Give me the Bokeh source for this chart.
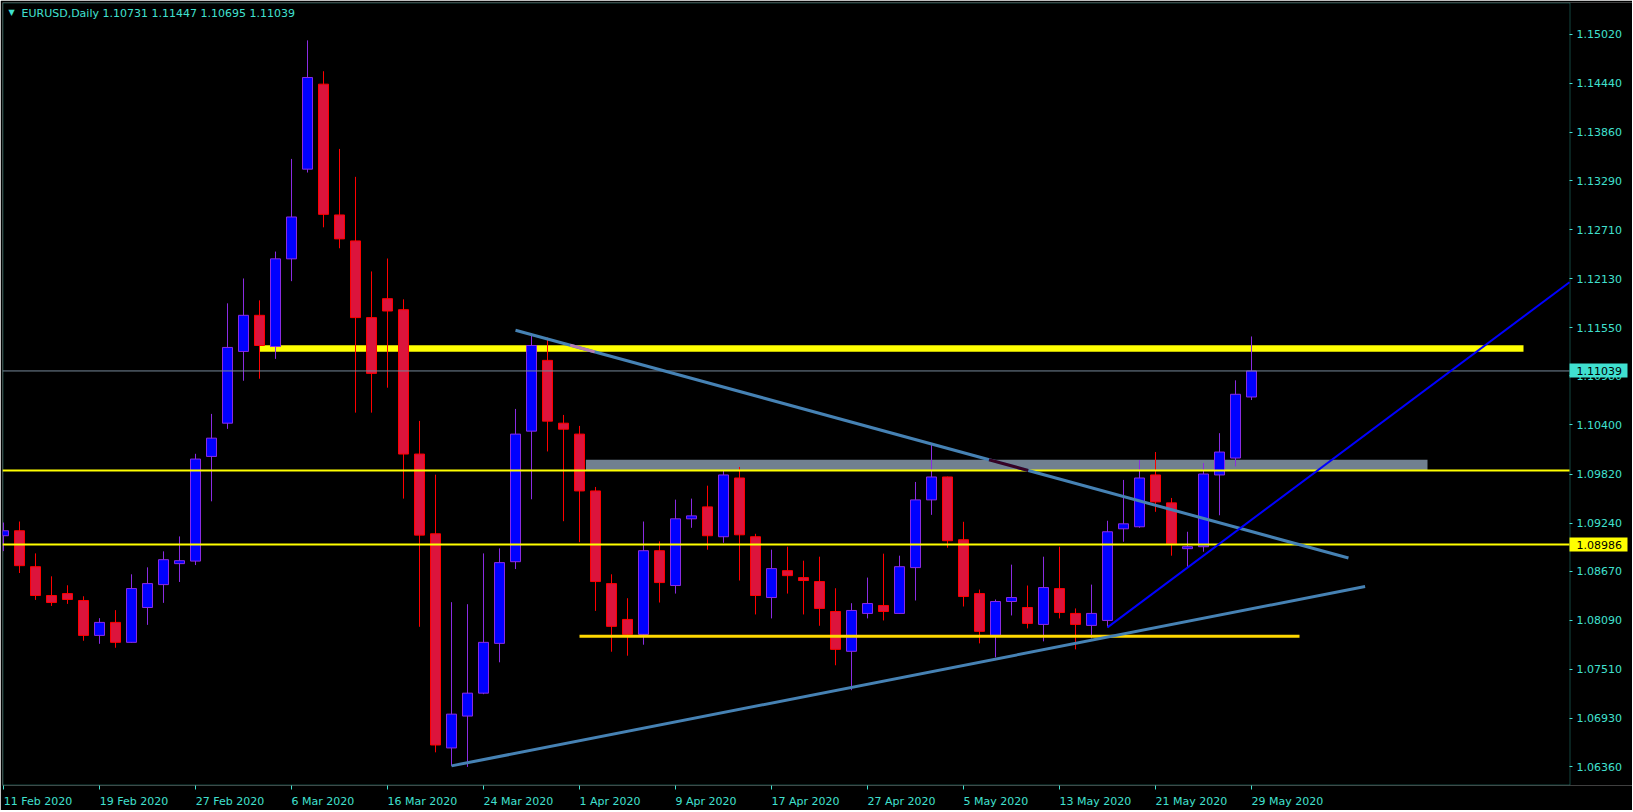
from bokeh.plotting import figure
from bokeh.models import (Range1d, FixedTicker, PrintfTickFormatter, Label, ColumnDataSource,
                          LinearAxis, BoxAnnotation)
from bokeh.embed import file_html
from bokeh.resources import INLINE

# ---------------- data ----------------
symbol = "EURUSD"
timeframe = "Daily"
x_tick_labels = ["11 Feb 2020", "19 Feb 2020", "27 Feb 2020", "6 Mar 2020", "16 Mar 2020",
                 "24 Mar 2020", "1 Apr 2020", "9 Apr 2020", "17 Apr 2020", "27 Apr 2020",
                 "5 May 2020", "13 May 2020", "21 May 2020", "29 May 2020"]
x_tick_step = 6
y_tick_values = [1.06360, 1.06930, 1.07510, 1.08090, 1.08670, 1.09240, 1.09820, 1.10400,
                 1.10980, 1.11550, 1.12130, 1.12710, 1.13290, 1.13860, 1.14440, 1.15020]

opens = [1.09090, 1.09149, 1.08724, 1.08383, 1.08406, 1.08324, 1.07911, 1.08065, 1.07829, 1.08241,
         1.08512, 1.08760, 1.08790, 1.10028, 1.10421, 1.11270, 1.11697, 1.11328, 1.12365, 1.13426,
         1.14431, 1.12884, 1.12577, 1.11670, 1.11894, 1.11764, 1.10056, 1.09113, 1.06580, 1.06957,
         1.07228, 1.07817, 1.08783, 1.10327, 1.11164, 1.10421, 1.10292, 1.09620, 1.08524, 1.08100,
         1.07923, 1.08913, 1.08501, 1.09290, 1.09431, 1.09078, 1.09773, 1.09078, 1.08359, 1.08677,
         1.08595, 1.08548, 1.08194, 1.07723, 1.08171, 1.08265, 1.08171, 1.08713, 1.09514, 1.09785,
         1.09043, 1.08406, 1.07911, 1.08312, 1.08241, 1.08041, 1.08465, 1.08171, 1.08029, 1.08088,
         1.09172, 1.09196, 1.09809, 1.09479, 1.08937, 1.08960, 1.09809, 1.10009, 1.10731]
highs = [1.09246, 1.09258, 1.08881, 1.08610, 1.08504, 1.08374, 1.08115, 1.08210, 1.08634, 1.08716,
         1.08905, 1.09082, 1.10059, 1.10531, 1.11839, 1.12133, 1.11874, 1.12451, 1.13547, 1.14949,
         1.14584, 1.13665, 1.13335, 1.12216, 1.12369, 1.11886, 1.10448, 1.09812, 1.08304, 1.08280,
         1.08881, 1.08940, 1.10590, 1.11482, 1.11434, 1.10519, 1.10389, 1.09667, 1.08634, 1.08351,
         1.09258, 1.09023, 1.09517, 1.09529, 1.09682, 1.09867, 1.09903, 1.09113, 1.08925, 1.08960,
         1.08795, 1.08842, 1.08469, 1.08292, 1.08595, 1.08878, 1.08854, 1.09726, 1.10186, 1.09790,
         1.09255, 1.08453, 1.08336, 1.08748, 1.08501, 1.08842, 1.08960, 1.08230, 1.08512, 1.09267,
         1.09750, 1.09985, 1.10080, 1.09537, 1.09137, 1.09950, 1.10303, 1.10928, 1.11447]
lows = [1.08908, 1.08649, 1.08331, 1.08260, 1.08284, 1.07848, 1.07812, 1.07765, 1.07825, 1.08036,
        1.08296, 1.08543, 1.08743, 1.09497, 1.10354, 1.10923, 1.10947, 1.11182, 1.12101, 1.13386,
        1.12738, 1.12490, 1.10546, 1.10546, 1.10841, 1.09529, 1.08013, 1.06528, 1.06368, 1.06356,
        1.07216, 1.07593, 1.08696, 1.09521, 1.10087, 1.09262, 1.09014, 1.08201, 1.07718, 1.07671,
        1.07801, 1.08300, 1.08406, 1.09184, 1.08925, 1.09007, 1.08560, 1.08159, 1.08112, 1.08406,
        1.08159, 1.08025, 1.07558, 1.07263, 1.08112, 1.08088, 1.08165, 1.08324, 1.09337, 1.08948,
        1.08253, 1.07817, 1.07652, 1.08147, 1.07994, 1.07841, 1.08112, 1.07746, 1.07876, 1.08006,
        1.09019, 1.09184, 1.09373, 1.08854, 1.08713, 1.08901, 1.09332, 1.09910, 1.10695]
closes = [1.09149, 1.08736, 1.08383, 1.08300, 1.08336, 1.07911, 1.08065, 1.07829, 1.08465, 1.08524,
          1.08807, 1.08795, 1.09997, 1.10244, 1.11317, 1.11697, 1.11340, 1.12365, 1.12860, 1.14510,
          1.12891, 1.12601, 1.11670, 1.11010, 1.11748, 1.10056, 1.09097, 1.06615, 1.06980, 1.07228,
          1.07829, 1.08772, 1.10292, 1.11340, 1.10445, 1.10350, 1.09620, 1.08548, 1.08018, 1.07923,
          1.08913, 1.08536, 1.09290, 1.09325, 1.09090, 1.09809, 1.09101, 1.08383, 1.08701, 1.08618,
          1.08560, 1.08230, 1.07746, 1.08206, 1.08288, 1.08194, 1.08724, 1.09514, 1.09785, 1.09031,
          1.08371, 1.07959, 1.08312, 1.08359, 1.08053, 1.08477, 1.08182, 1.08041, 1.08171, 1.09137,
          1.09231, 1.09773, 1.09490, 1.08995, 1.08960, 1.09820, 1.10080, 1.10763, 1.11039]

# drawn objects (bar index, price)
resistance_band = [1.11265, 1.11344]
resistance_band_bars = [16.0, 95.0]
zone_band = [1.09862, 1.09989]
zone_band_bars = [36.4, 89.0]
plain_level = 1.09862
labelled_level = 1.08986
support_level = 1.07900
support_bars = [36.0, 81.0]
down_trend = [(32.0, 1.11521), (84.06, 1.08826)]
up_trend = [(28.0, 1.06368), (85.1, 1.08489)]
ray_anchor = [(69.0, 1.08006), (74.0, 1.08713)]

# ---------------- style ----------------
TURQ = "#40E0D0"
BULL_FILL, BULL_LINE = "#0000FF", "#8A2BE2"
BEAR_FILL, BEAR_LINE = "#DC143C", "#FF0000"
FONT = "DejaVu Sans"
FS = 11

PX_PER_BAR = 16.0
FRAME_W, FRAME_H = 1630, 786          # plotting area incl. the price-scale column
CHART_W = 1567                        # chart area inside the border
X0 = -0.0625
XR = X0 + FRAME_W / PX_PER_BAR        # right end of the range
XE = X0 + CHART_W / PX_PER_BAR        # chart's right border (price scale position)
Y0, Y1 = 1.061358, 1.153970

# DejaVu Sans advance widths (font units of 2048) used to left-align date labels at their ticks
ADV = {" ": 651, "A": 1401, "F": 1178, "M": 1767, "a": 1255, "b": 1300, "e": 1260,
       "p": 1300, "r": 842, "y": 1212}


def text_w(s):
    return sum(ADV.get(ch, 1303) for ch in s) / 2048 * FS


def px2x(px):  # page pixel -> bar index (decorations only)
    return X0 + (px - 2) / PX_PER_BAR


def px2y(py):
    return Y1 - (py - 2) * (Y1 - Y0) / FRAME_H


p = figure(width=2 + FRAME_W, height=2 + FRAME_H + 22,
           x_range=Range1d(X0, XR), y_range=Range1d(Y0, Y1),
           output_backend="svg", toolbar_location=None, y_axis_location="right",
           min_border_left=2, min_border_top=2, min_border_right=0, min_border_bottom=22,
           background_fill_color="black", border_fill_color="black",
           outline_line_color=None)
p.xgrid.visible = False
p.ygrid.visible = False

# price scale, drawn at the chart's right border
ya = p.yaxis[0]
ya.fixed_location = XE
ya.ticker = FixedTicker(ticks=y_tick_values)
ya.formatter = PrintfTickFormatter(format="%.5f")
ya.major_tick_out = 3
ya.major_tick_in = 0
ya.major_label_standoff = 4
ya.major_tick_line_color = TURQ
ya.minor_tick_line_color = None

# x axis: tick marks as minor ticks at the dates, labels (major) shifted so they start at the tick
x_ticks = list(range(0, len(opens), x_tick_step))
label_pos = [round(t + text_w(lab) / 2 / PX_PER_BAR, 4) for t, lab in zip(x_ticks, x_tick_labels)]
xa = p.xaxis[0]
xa.ticker = FixedTicker(ticks=label_pos, minor_ticks=x_ticks)
xa.major_label_overrides = {pos: lab for pos, lab in zip(label_pos, x_tick_labels)}
xa.major_tick_line_color = None
xa.major_tick_out = 0
xa.major_tick_in = 0
xa.minor_tick_line_color = TURQ
xa.minor_tick_out = 4
xa.minor_tick_in = 0
xa.major_label_standoff = 5

for ax in (xa, ya):
    ax.axis_line_color = None
    ax.major_label_text_color = TURQ
    ax.major_label_text_font = FONT
    ax.major_label_text_font_size = f"{FS}px"

# chart border
p.add_layout(BoxAnnotation(left=px2x(2.5), right=px2x(1569.5), top=px2y(2.5), bottom=px2y(787.5),
                           fill_alpha=0, line_color=TURQ, line_width=1, level="underlay"))

# background rectangles
p.quad(left=[resistance_band_bars[0]], right=[resistance_band_bars[1]],
       bottom=[resistance_band[0]], top=[resistance_band[1]],
       fill_color="#FFFF00", line_color=None)
p.quad(left=[zone_band_bars[0]], right=[zone_band_bars[1]],
       bottom=[zone_band[0]], top=[zone_band[1]],
       fill_color="#708090", line_color=None)

# candles
idx = list(range(len(opens)))
bull = [c >= o for o, c in zip(opens, closes)]
src = ColumnDataSource(dict(
    x=idx, o=opens, h=highs, l=lows, c=closes,
    top=[max(o, c) for o, c in zip(opens, closes)],
    bottom=[min(o, c) for o, c in zip(opens, closes)],
    fill=[BULL_FILL if b else BEAR_FILL for b in bull],
    line=[BULL_LINE if b else BEAR_LINE for b in bull],
))
p.segment(x0="x", y0="h", x1="x", y1="l", color="line", line_width=1, source=src)
p.vbar(x="x", width=0.625, top="top", bottom="bottom", fill_color="fill",
       line_color="line", line_width=1, source=src)

# horizontal levels (across the chart area)
p.line(x=[X0, XE], y=[closes[-1], closes[-1]], line_color="#778899", line_width=1)
p.line(x=[X0, XE], y=[plain_level, plain_level], line_color="#FFFF00", line_width=2)
p.line(x=[X0, XE], y=[labelled_level, labelled_level], line_color="#FFFF00", line_width=2)
p.line(x=support_bars, y=[support_level, support_level], line_color="#FFD700", line_width=3)

# trend lines
p.line(x=[pt[0] for pt in up_trend], y=[pt[1] for pt in up_trend], line_color="#4682B4", line_width=3)
p.line(x=[pt[0] for pt in down_trend], y=[pt[1] for pt in down_trend], line_color="#4682B4", line_width=3)


def seg_in_band(a, b, lo, hi, xa_, xb_):
    (x0, y0), (x1, y1) = a, b
    k = (y1 - y0) / (x1 - x0)
    xs = sorted([x0 + (lo - y0) / k, x0 + (hi - y0) / k])
    s = max(xs[0], xa_, min(x0, x1))
    e = min(xs[1], xb_, max(x0, x1))
    if s >= e:
        return None
    return [s, e], [y0 + k * (s - x0), y0 + k * (e - x0)]


for band, bars, col in ((resistance_band, resistance_band_bars, "#B97DB4"),
                        (zone_band, zone_band_bars, "#360224")):
    seg = seg_in_band(down_trend[0], down_trend[1], band[0], band[1], bars[0], bars[1])
    if seg:
        p.line(x=seg[0], y=seg[1], line_color=col, line_width=3)

(rx0, ry0), (rx1, ry1) = ray_anchor
ray_end_y = ry0 + (XE - rx0) * (ry1 - ry0) / (rx1 - rx0)
p.line(x=[rx0, XE], y=[ry0, ray_end_y], line_color="#0000FF", line_width=2)

# header
p.add_layout(Label(x=px2x(11), y=px2y(12), text="\u25BC", text_color=TURQ, text_font=FONT,
                   text_font_size="8px", text_align="center", text_baseline="middle"))
p.add_layout(Label(x=px2x(21), y=px2y(13), text=f"{symbol},{timeframe}", text_color=TURQ,
                   text_font=FONT, text_font_size=f"{FS}px", text_baseline="middle"))
p.add_layout(Label(x=px2x(102), y=px2y(13),
                   text=" ".join(f"{v:.5f}" for v in (opens[-1], highs[-1], lows[-1], closes[-1])),
                   text_color=TURQ, text_font=FONT, text_font_size=f"{FS}px", text_baseline="middle"))

# price boxes on the price scale: a wide tick (the box) with its black label on top
for val, bg in ((closes[-1], TURQ), (labelled_level, "#FFFF00")):
    box_axis = LinearAxis(fixed_location=XE, ticker=FixedTicker(ticks=[val]),
                          formatter=PrintfTickFormatter(format="%.5f"),
                          axis_line_color=None, minor_tick_line_color=None,
                          major_tick_line_color=bg, major_tick_line_width=14,
                          major_tick_in=0, major_tick_out=58, major_label_standoff=-51,
                          major_label_text_color="black", major_label_text_font=FONT,
                          major_label_text_font_size=f"{FS}px")
    p.add_layout(box_axis, "right")

open("out.html", "w").write(file_html(p, INLINE))
